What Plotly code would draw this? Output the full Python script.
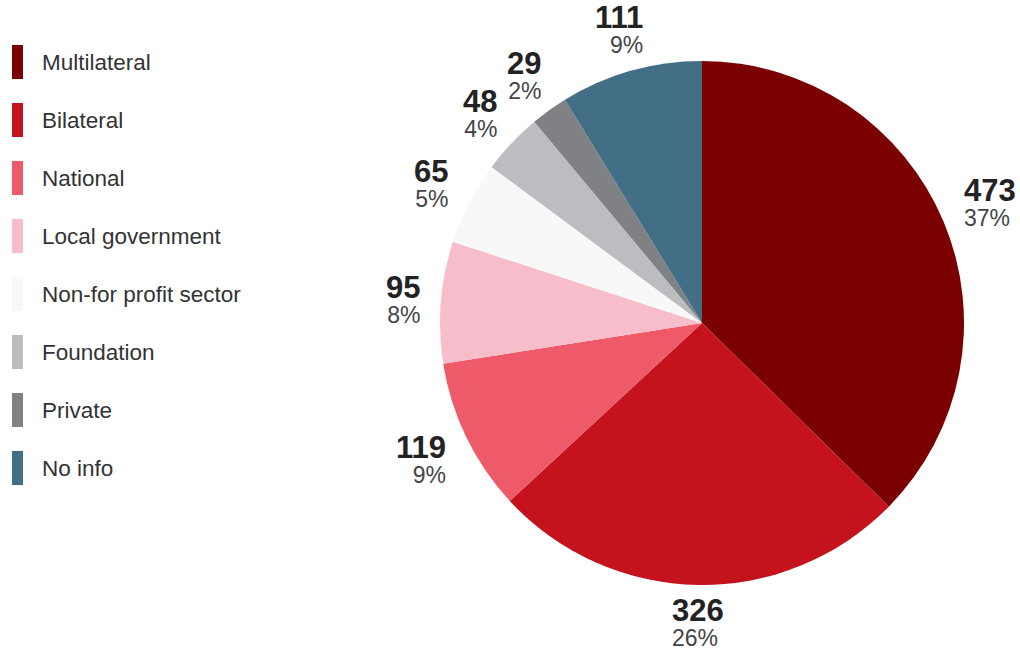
import math
import plotly.graph_objects as go

categories = ["Multilateral", "Bilateral", "National", "Local government",
              "Non-for profit sector", "Foundation", "Private", "No info"]
values = [473, 326, 119, 95, 65, 48, 29, 111]
colors = ["#7b0000", "#c4131c", "#ef5a6a", "#f7bdcb", "#f8f8f8",
          "#bcbdc1", "#808185", "#426f85"]

W, H = 1020, 649
cx, cy, r = 702, 323, 262
FONT = "Liberation Sans, Arial, Helvetica, sans-serif"
NUM_SIZE, PCT_SIZE = 31, 23
GAP, BLOCK_H = 19, 36

fig = go.Figure(go.Pie(
    labels=categories, values=values, sort=False, direction="clockwise",
    rotation=0, marker=dict(colors=colors, line=dict(width=0)),
    textinfo="none", hoverinfo="label+value+percent", showlegend=False,
    domain=dict(x=[(cx - r) / W, (cx + r) / W],
                y=[(H - cy - r) / H, (H - cy + r) / H]),
))

total = sum(values)
annotations = []
shapes = []
cum = 0
for v in values:
    mid = (cum + v / 2) / total * 2 * math.pi
    cum += v
    s, c = math.sin(mid), math.cos(mid)
    pct = int(v / total * 100 + 0.5)
    # approximate label block width to keep labels just outside the rim
    w = max(len(str(v)) * 0.556 * NUM_SIZE, (len(str(pct)) * 0.556 + 0.889) * PCT_SIZE)
    R = r + GAP + abs(s) * w / 2 + abs(c) * BLOCK_H / 2
    px = cx + R * s
    py = cy - R * c
    align = "left" if s > 0.1 else ("right" if s < -0.1 else "left")
    annotations.append(dict(
        x=px / W, y=1 - py / H, xref="paper", yref="paper",
        xanchor="center", yanchor="middle", align=align,
        showarrow=False,
        text=f"<span style='font-size:{NUM_SIZE}px;color:#222'><b>{v}</b></span><br>"
             f"<span style='font-size:{PCT_SIZE}px;color:#444'>{pct}%</span>",
        font=dict(family=FONT, size=19.5),
    ))

for i, (name, col) in enumerate(zip(categories, colors)):
    yc = 62 + 58 * i
    shapes.append(dict(type="rect", xref="paper", yref="paper",
                       x0=12 / W, x1=23 / W, y0=1 - (yc + 17) / H, y1=1 - (yc - 17) / H,
                       fillcolor=col, line=dict(width=0)))
    annotations.append(dict(
        x=40 / W, y=1 - yc / H, xref="paper", yref="paper",
        xanchor="left", yanchor="middle", showarrow=False, text=name,
        font=dict(family=FONT, size=22.5, color="#333"),
    ))

fig.update_layout(
    width=W, height=H, margin=dict(l=0, r=0, t=0, b=0),
    paper_bgcolor="white", plot_bgcolor="white",
    annotations=annotations, shapes=shapes,
)
fig.write_html("out.html", config={"displayModeBar": False},
               post_script="document.body.style.margin='0';")
